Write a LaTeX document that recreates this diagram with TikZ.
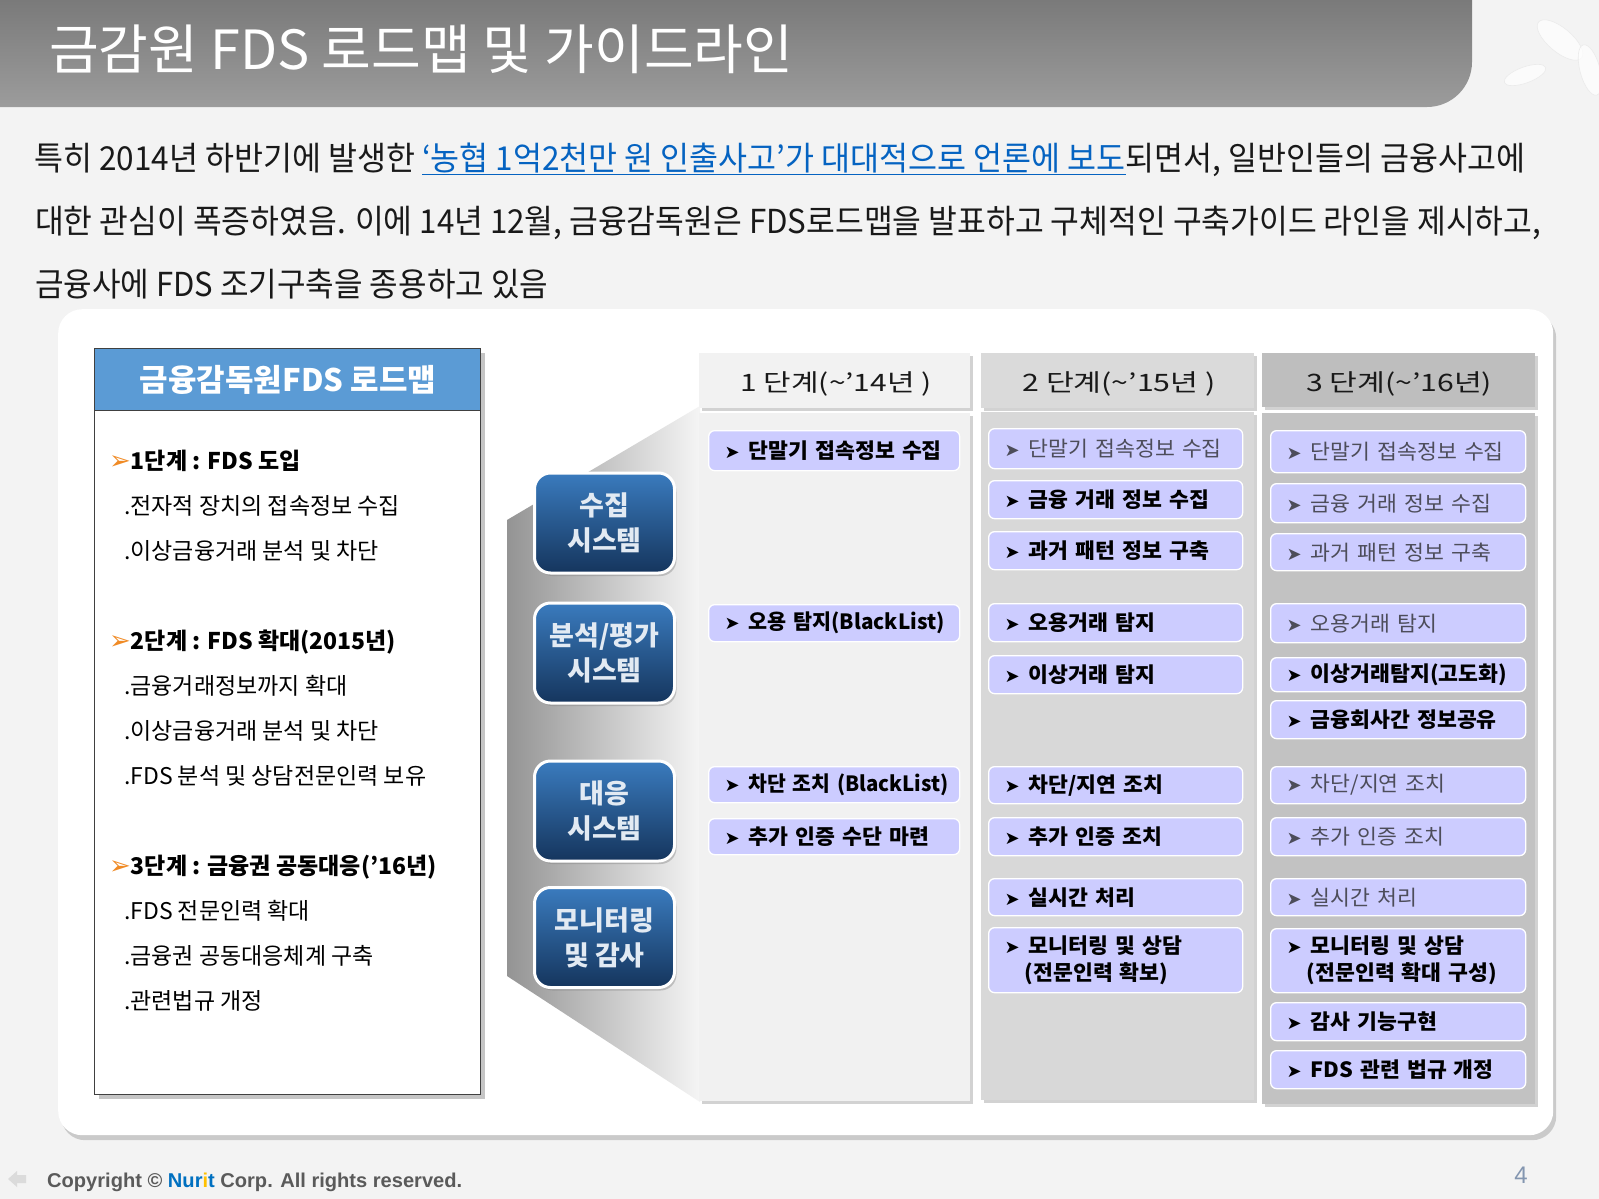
\documentclass[tikz,border=0pt]{standalone}
\usepackage{fontspec}
\usepackage{graphicx}
\usetikzlibrary{shadows,calc}
\setmainfont{Noto Sans CJK KR}
\newfontfamily\krL{Noto Sans CJK KR}
\newfontfamily\krI[FakeStretch=1.03]{Noto Sans CJK KR}
\newfontfamily\symf{DejaVu Sans}
\newfontfamily\arl{Liberation Sans}
\newcommand{\fitx}[2]{\resizebox{#1}{\height}{#2}}
\newcommand{\chev}{{\symf\bfseries\fontsize{18}{18}\selectfont ➤}\hspace{9pt}}
\newcommand{\itx}[1]{\mbox{\chev#1}}
\newcommand{\larr}{{\symf\fontsize{26}{26}\selectfont\textcolor{orangearrow}{➢}}}
\definecolor{bgcol}{HTML}{F3F3F3}
\definecolor{titletop}{HTML}{7A7A7A}
\definecolor{titlebot}{HTML}{9C9C9C}
\definecolor{linkblue}{HTML}{0563C1}
\definecolor{hdrblue}{HTML}{5B9BD5}
\definecolor{lav}{HTML}{CCCCFF}
\definecolor{btntop}{HTML}{3A7BBE}
\definecolor{btnbot}{HTML}{15355D}
\definecolor{btntxt}{HTML}{E2EAF3}
\definecolor{fadetxt}{HTML}{4D4D5A}
\definecolor{orangearrow}{HTML}{F08A24}
\definecolor{c1h}{HTML}{F2F2F2}
\definecolor{c1b}{HTML}{F1F1F1}
\definecolor{c2h}{HTML}{DADADA}
\definecolor{c2b}{HTML}{D8D8D8}
\definecolor{c3h}{HTML}{BEBEBE}
\definecolor{c3b}{HTML}{C2C2C2}
\definecolor{footgray}{HTML}{5A5A5A}
\definecolor{nblue}{HTML}{0070C0}
\definecolor{nyellow}{HTML}{FFC000}
\definecolor{pgnum}{HTML}{8496B0}
\tikzset{
  colbox/.style={anchor=north west, inner sep=0pt,
    drop shadow={shadow xshift=2.5pt,shadow yshift=-3pt,opacity=0.35}},
  itm/.style={anchor=north west, rounded corners=6pt, fill=lav, draw=white,
    line width=1.3pt, inner xsep=16pt, inner ysep=0pt, align=left,
    font=\krI\fontsize{21}{27}\selectfont\bfseries, text=black},
  itmfade/.style={itm, font=\krI\fontsize{21}{27}\selectfont, text=fadetxt},
  w1/.style={minimum width=251pt, text width=219pt},
  w2/.style={minimum width=254pt, text width=222pt},
  w3/.style={minimum width=255pt, text width=223pt},
  colhead/.style={anchor=base, font=\krI\fontsize{24}{24}\selectfont, text=black!90, inner sep=0},
  btn/.style={rounded corners=16pt, top color=btntop, bottom color=btnbot,
    draw=white, line width=3pt, minimum width=140pt, minimum height=100pt,
    align=center, text=btntxt, font=\bfseries\fontsize{27}{35}\selectfont,
    drop shadow={shadow xshift=2pt,shadow yshift=-3pt,opacity=0.4}},
  lhead/.style={anchor=base west, font=\krL\fontsize{23}{23}\selectfont\bfseries, inner sep=0},
  lsub/.style={anchor=base west, font=\krL\fontsize{23}{23}\selectfont, inner sep=0},
}
\begin{document}
\begin{tikzpicture}[x=1pt,y=-1pt]
\useasboundingbox (0,0) rectangle (1599,1199);
\fill[bgcol] (0,0) rectangle (1599,1199);
% leaves decoration (faint)
\begin{scope}[draw=black!8, fill=white, fill opacity=0.7, line width=0.6pt]
  \filldraw[rotate around={-40:(1560,40)}] (1560,40) ellipse [x radius=28, y radius=12];
  \filldraw[rotate around={-75:(1590,70)}] (1590,70) ellipse [x radius=26, y radius=10];
  \filldraw[rotate around={20:(1525,75)}] (1525,75) ellipse [x radius=22, y radius=8];
\end{scope}
% title bar
\shade[top color=titletop, bottom color=titlebot]
  (0,0) -- (1472,0) -- (1472,62) arc[start angle=0, end angle=90, radius=45] -- (0,107) -- cycle;
\node[anchor=base west, text=white, font=\fontsize{54}{54}\selectfont, inner sep=0] (title) at (49,70)
  {\fitx{744pt}{금감원 FDS 로드맵 및 가이드라인}};
% body text
\node[anchor=base west, font=\fontsize{33}{33}\selectfont, text=black!90, inner sep=0] (p1) at (34,170)
  {\fitx{1491pt}{특히 2014년 하반기에 발생한 \textcolor{linkblue}{\underline{‘농협 1억2천만 원 인출사고’가 대대적으로 언론에 보도}}되면서, 일반인들의 금융사고에}};
\node[anchor=base west, font=\fontsize{33}{33}\selectfont, text=black!90, inner sep=0] (p2) at (35,233)
  {\fitx{1506pt}{대한 관심이 폭증하였음. 이에 14년 12월, 금융감독원은 FDS로드맵을 발표하고 구체적인 구축가이드 라인을 제시하고,}};
\node[anchor=base west, font=\fontsize{33}{33}\selectfont, text=black!90, inner sep=0] (p3) at (35,296)
  {\fitx{513pt}{금융사에 FDS 조기구축을 종용하고 있음}};
% panel
\node[fill=white, rounded corners=24pt, anchor=north west, minimum width=1495pt, minimum height=826pt,
  inner sep=0, drop shadow={shadow xshift=3pt, shadow yshift=-5pt, opacity=0.35}] (panel) at (58,309) {};
% left box
\node[draw=black!75, line width=1.2pt, fill=white, anchor=north west, minimum width=386pt,
  minimum height=746pt, inner sep=0, drop shadow={shadow xshift=4pt,shadow yshift=-4pt,opacity=0.45}] (lbox) at (94,348) {};
\node[draw=black!75, line width=1.2pt, fill=hdrblue, anchor=north west, minimum width=386pt,
  minimum height=62pt, inner sep=0] (lhdr) at (94,348) {};
\node[anchor=base, text=white, font=\bfseries\fontsize{31}{31}\selectfont, inner sep=0] (lhdrt) at (288,391)
  {\fitx{296pt}{금융감독원FDS 로드맵}};
\node[lhead] (s1) at (109,469) {\larr1단계 : FDS 도입};
\node[lsub] (s1a) at (124,514) {.전자적 장치의 접속정보 수집};
\node[lsub] (s1b) at (124,559) {.이상금융거래 분석 및 차단};
\node[lhead] (s2) at (109,649) {\larr2단계 : FDS 확대(2015년)};
\node[lsub] (s2a) at (124,694) {.금융거래정보까지 확대};
\node[lsub] (s2b) at (124,739) {.이상금융거래 분석 및 차단};
\node[lsub] (s2c) at (124,784) {.FDS 분석 및 상담전문인력 보유};
\node[lhead] (s3) at (109,874) {\larr3단계 : 금융권 공동대응(’16년)};
\node[lsub] (s3a) at (124,919) {.FDS 전문인력 확대};
\node[lsub] (s3b) at (124,964) {.금융권 공동대응체계 구축};
\node[lsub] (s3c) at (124,1009) {.관련법규 개정};
% funnel
\shade[left color=black!42, right color=black!4]
  (507,520) -- (700,406) -- (700,1102) -- (507,976) -- cycle;
% columns
\node[colbox, fill=c1h, minimum width=271pt, minimum height=55pt] (h1) at (699,353) {};
\node[colbox, fill=c1b, minimum width=271pt, minimum height=688pt] (k1) at (699,413) {};
\node[colbox, fill=c2h, minimum width=273pt, minimum height=55pt] (h2) at (981,353) {};
\node[colbox, fill=c2b, minimum width=273pt, minimum height=688pt] (k2) at (981,412) {};
\node[colbox, fill=c3h, minimum width=273pt, minimum height=54pt] (h3) at (1262,353) {};
\node[colbox, fill=c3b, minimum width=273pt, minimum height=691pt] (k3) at (1262,413) {};
\node[colhead] (h1t) at (836,391) {\fitx{191pt}{1 단계(\textasciitilde’14년 )}};
\node[colhead] (h2t) at (1119,391) {\fitx{193pt}{2 단계(\textasciitilde’15년 )}};
\node[colhead] (h3t) at (1399,391) {\fitx{186pt}{3 단계(\textasciitilde’16년)}};
% buttons
\node[btn] (b1) at (604.5,523) {수집\\시스템};
\node[btn] (b2) at (604.5,653) {분석/평가\\시스템};
\node[btn] (b3) at (604.5,811) {대응\\시스템};
\node[btn] (b4) at (604.5,937.5) {모니터링\\및 감사};
% column 1 items
\node[itm, w1, minimum height=40pt] (c1a) at (708,430) {\itx{단말기 접속정보 수집}};
\node[itm, w1, minimum height=37pt] (c1b) at (708,604) {\itx{\fitx{196pt}{오용 탐지(BlackList)}}};
\node[itm, w1, minimum height=36pt] (c1c) at (708,766) {\itx{\fitx{200pt}{차단 조치 (BlackList)}}};
\node[itm, w1, minimum height=36pt] (c1d) at (708,818) {\itx{추가 인증 수단 마련}};
% column 2 items
\node[itmfade, w2, minimum height=40pt] (c2a) at (988,428) {\itx{단말기 접속정보 수집}};
\node[itm, w2, minimum height=38pt] (c2b) at (988,480) {\itx{금융 거래 정보 수집}};
\node[itm, w2, minimum height=38pt] (c2c) at (988,531) {\itx{과거 패턴 정보 구축}};
\node[itm, w2, minimum height=38pt] (c2d) at (988,603) {\itx{오용거래 탐지}};
\node[itm, w2, minimum height=38pt] (c2e) at (988,655) {\itx{이상거래 탐지}};
\node[itm, w2, minimum height=37pt] (c2f) at (988,766) {\itx{차단/지연 조치}};
\node[itm, w2, minimum height=38pt] (c2g) at (988,817) {\itx{추가 인증 조치}};
\node[itm, w2, minimum height=37pt] (c2h) at (988,878) {\itx{실시간 처리}};
\node[itm, w2, minimum height=65pt] (c2i) at (988,927) {\itx{모니터링 및 상담}\\\hspace*{20pt}\mbox{(전문인력 확보)}};
% column 3 items
\node[itmfade, w3, minimum height=42pt] (c3a) at (1270,430) {\itx{단말기 접속정보 수집}};
\node[itmfade, w3, minimum height=39pt] (c3b) at (1270,483) {\itx{금융 거래 정보 수집}};
\node[itmfade, w3, minimum height=37pt] (c3c) at (1270,533) {\itx{과거 패턴 정보 구축}};
\node[itmfade, w3, minimum height=39pt] (c3d) at (1270,603) {\itx{오용거래 탐지}};
\node[itm, w3, minimum height=34pt] (c3e) at (1270,657) {\itx{이상거래탐지(고도화)}};
\node[itm, w3, minimum height=38pt] (c3f) at (1270,700) {\itx{금융회사간 정보공유}};
\node[itmfade, w3, minimum height=37pt] (c3g) at (1270,766) {\itx{차단/지연 조치}};
\node[itmfade, w3, minimum height=38pt] (c3h) at (1270,817) {\itx{추가 인증 조치}};
\node[itmfade, w3, minimum height=37pt] (c3i) at (1270,878) {\itx{실시간 처리}};
\node[itm, w3, minimum height=64pt] (c3j) at (1270,928) {\itx{모니터링 및 상담}\\\hspace*{20pt}\mbox{(전문인력 확대 구성)}};
\node[itm, w3, minimum height=38pt] (c3k) at (1270,1002) {\itx{감사 기능구현}};
\node[itm, w3, minimum height=38pt] (c3l) at (1270,1050) {\itx{FDS 관련 법규 개정}};
% footer
\fill[black!14] (8,1179) -- (17,1171) -- (17,1175) -- (26,1175) -- (26,1183) -- (17,1183) -- (17,1187) -- cycle;
\node[anchor=base west, font=\arl\bfseries\fontsize{20}{20}\selectfont, text=footgray, inner sep=0] (copy) at (47,1187)
  {\fitx{415pt}{Copyright © \textcolor{nblue}{Nur}\textcolor{nyellow}{i}\textcolor{nblue}{t} Corp. All rights reserved.}};
\node[anchor=base, font=\arl\fontsize{24}{24}\selectfont, text=pgnum, inner sep=0] (pg) at (1521,1183) {4};
\end{tikzpicture}
\end{document}
